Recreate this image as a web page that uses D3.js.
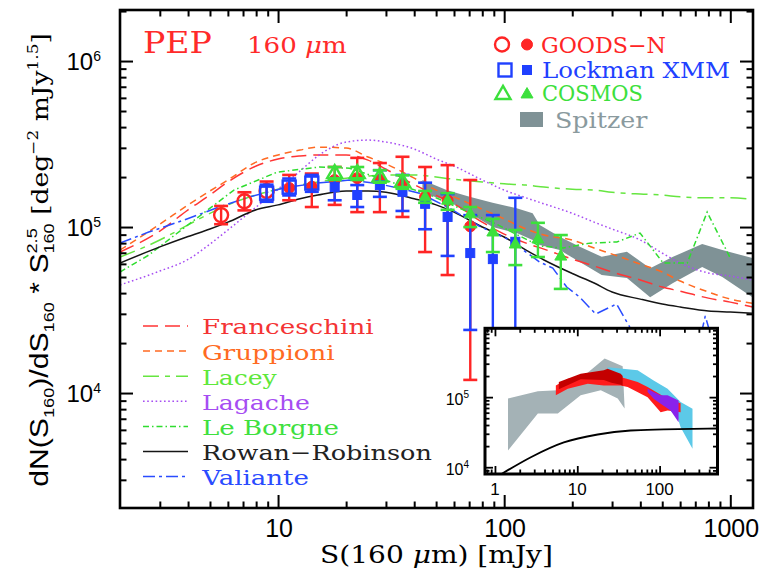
<!DOCTYPE html>
<html><head><meta charset="utf-8">
<script src="https://cdn.jsdelivr.net/npm/d3@7"></script>
<style>body{margin:0;background:#fff}</style>
</head><body>
<svg id="c" width="765" height="576" xmlns="http://www.w3.org/2000/svg"></svg>
<script>
// ---------------- DATA ----------------
const S_GRID = [2,3,4,5,6,8,10,12.5,15,20,25,30,40,50,60,80,100,125,150,200,250,300,400,500,600,800,1000,1250];
const franceschini = [7.07e4,9.46e4,1.27e5,1.56e5,1.87e5,2.33e5,2.57e5,2.68e5,2.72e5,2.72e5,2.53e5,2.23e5,1.80e5,1.55e5,1.38e5,1.07e5,9.07e4,8.0e4,7.36e4,6.41e4,5.82e4,5.36e4,4.80e4,4.35e4,4.11e4,3.73e4,3.53e4,3.30e4];
const gruppioni = [7.27e4,1.04e5,1.36e5,1.65e5,1.92e5,2.46e5,2.72e5,2.91e5,3.03e5,2.99e5,2.64e5,2.40e5,1.97e5,1.67e5,1.52e5,1.28e5,1.12e5,9.73e4,8.95e4,8.35e4,7.47e4,6.87e4,5.98e4,5.36e4,4.73e4,4.06e4,3.68e4,3.48e4];
const lacey = [6.59e4,8.35e4,1.03e5,1.21e5,1.36e5,1.56e5,1.69e5,1.79e5,1.87e5,1.97e5,2.03e5,2.06e5,2.06e5,2.0e5,1.94e5,1.87e5,1.82e5,1.79e5,1.74e5,1.69e5,1.67e5,1.62e5,1.58e5,1.56e5,1.52e5,1.50e5,1.50e5,1.47e5];
const lagache = [4.48e4,5.43e4,6.38e4,7.9e4,9.6e4,1.32e5,1.69e5,2.17e5,2.68e5,3.25e5,3.34e5,3.25e5,2.95e5,2.57e5,2.33e5,1.92e5,1.67e5,1.50e5,1.38e5,1.21e5,1.07e5,9.73e4,8.35e4,6.97e4,6.07e4,5.29e4,5.07e4,4.80e4];
const rowanRobinson = [6.07e4,7.59e4,8.77e4,9.73e4,1.07e5,1.27e5,1.36e5,1.48e5,1.56e5,1.65e5,1.65e5,1.62e5,1.48e5,1.36e5,1.23e5,1.0e5,8.71e4,7.27e4,6.33e4,5.25e4,4.6e4,4.06e4,3.68e4,3.44e4,3.30e4,3.12e4,3.08e4,3.03e4];
const leBorgneS = [2,2.68,3.83,6.38,9.9,15.2,20.7,28.1,46.8,72.5,92.6,117,144,182,239,315,399,505,645,790,1000];
const leBorgneV = [5.36e4,6.78e4,9.86e4,1.67e5,2.14e5,2.30e5,2.26e5,1.97e5,1.56e5,1.20e5,1.04e5,8.83e4,7.69e4,7.47e4,8.0e4,8.13e4,9.2e4,6.07e4,6.07e4,1.23e5,6.5e4];
const valianteS = [2,2.68,3.83,5.48,7.51,10.6,14.9,20.7,28.1,42.2,57.4,77.9,105.7,143.6,164,189,216,254,314,359,420,700,775,832];
const valianteV = [8.0e4,9.33e4,1.10e5,1.32e5,1.52e5,1.72e5,1.84e5,1.92e5,1.82e5,1.60e5,1.30e5,1.01e5,8.35e4,6.15e4,5.66e4,4.35e4,3.78e4,2.99e4,3.44e4,2.50e4,1.58e4,1.58e4,2.91e4,2.08e4];

const spitzerS  = [43.5,55.6,70.3,88.9,113.6,133.6,143.6,176,216,270,349,442,558,751,922,1253];
const spitzerHi = [1.92e5,1.67e5,1.52e5,1.40e5,1.30e5,1.21e5,1.03e5,8.74e4,7.61e4,6.62e4,7.1e4,5.64e4,6.62e4,7.9e4,7.27e4,6.5e4];
const spitzerLo = [1.6e5,1.45e5,1.21e5,1.0e5,9.2e4,8.35e4,7.8e4,7.27e4,6.15e4,5.14e4,4.93e4,3.78e4,4.6e4,5.74e4,5.0e4,3.78e4];

// [S, value, lower, upper]
const goodsOpen = [[5.6,1.18e5,1.04e5,1.34e5],[7.1,1.43e5,1.26e5,1.62e5],[8.9,1.65e5,1.45e5,1.88e5]];
const goodsFilled = [[11.2,1.72e5,1.45e5,2.06e5],[14.1,1.75e5,1.32e5,2.10e5],[17.8,1.92e5,1.36e5,2.30e5],[22.4,1.97e5,1.23e5,2.61e5],[28.2,1.92e5,1.23e5,2.43e5],[35.5,1.84e5,1.15e5,2.65e5],[44.7,1.52e5,7.07e4,2.30e5],[56.2,1.45e5,5.14e4,2.36e5],[70.8,1.01e5,1.20e4,1.92e5]];
const lockmanOpen = [[8.9,1.60e5,1.42e5,1.80e5],[11.2,1.74e5,1.55e5,1.96e5],[14.1,1.84e5,1.63e5,2.06e5]];
const lockmanFilled = [[17.8,1.74e5,1.45e5,1.97e5],[22.4,1.56e5,1.32e5,1.79e5],[28.2,1.79e5,1.52e5,2.20e5],[35.5,1.63e5,1.25e5,2.06e5],[44.7,1.38e5,9.7e4,1.85e5],[56.2,1.15e5,6.7e4,1.58e5],[70.8,6.97e4,2.40e4,1.18e5],[89.1,6.41e4,1.5e4,1.18e5],[112,8.15e4,1.5e4,1.50e5]];
const cosmosOpen = [[17.8,2.11e5,1.92e5,2.30e5],[22.4,2.11e5,1.92e5,2.30e5],[28.2,2.01e5,1.85e5,2.20e5],[35.5,1.87e5,1.70e5,2.05e5]];
const cosmosFilled = [[44.7,1.52e5,1.40e5,1.65e5],[56.2,1.45e5,1.27e5,1.60e5],[70.8,1.20e5,1.0e5,1.32e5],[89.1,9.33e4,7.07e4,1.12e5],[112,7.9e4,5.9e4,9.6e4],[141,8.47e4,6.6e4,1.06e5],[178,6.68e4,4.24e4,8.95e4]];

// inset bands: [S, value]
const insetGreyUpper = [[1.44,9.58e4],[3.32,1.21e5],[5.8,1.25e5],[11.0,1.85e5],[21.5,3.57e5],[35.6,2.75e5],[37.6,6.9e4]];
const insetGreyLower = [[1.44,1.73e4],[3.32,5.85e4],[5.8,5.85e4],[11.0,1.06e5],[19.3,1.25e5],[31,9.58e4],[37.6,6.9e4]];
const insetCyanUpper = [[23.4,2.68e5],[35.6,2.55e5],[54.1,2.41e5],[84.6,1.73e5],[125,1.32e5],[180,8.49e4],[251,6.82e4]];
const insetCyanLower = [[23.4,2.2e5],[35.6,1.9e5],[54.1,1.5e5],[84.6,1.1e5],[125,7e4],[165,5.18e4],[180,3.73e4],[251,1.83e4]];
const insetRedUpper = [[5.49,1.47e5],[7.67,1.83e5],[14.6,2.04e5],[21.0,2.16e5],[33.7,1.93e5],[54.1,1.64e5],[71.5,1.39e5],[125,9.48e4],[163,8.49e4],[180,8.2e4]];
const insetRedLower = [[5.49,1.06e5],[7.67,1.32e5],[13.4,1.55e5],[21.0,1.47e5],[33.7,1.47e5],[40.9,1.39e5],[71.5,1.0e5],[103,6.1e4],[125,6.46e4],[180,6.1e4]];
const insetDarkUpper = [[5.97,1.64e5],[11.0,2.16e5],[21.0,2.41e5],[23.4,2.55e5],[33.7,2.16e5],[35.6,2.0e5]];
const insetDarkLower = [[5.97,1.3e5],[11.0,1.8e5],[21.0,1.75e5],[26,1.6e5],[33.7,1.5e5],[35.6,1.45e5]];
const insetPurpleUpper = [[71.5,1.32e5],[84.6,1.18e5],[103,1.06e5],[125,1.06e5],[170,8.98e4]];
const insetPurpleLower = [[71.5,1.18e5],[84.6,9.48e4],[103,8.05e4],[136,6.46e4],[170,4.39e4]];
const insetCurveS = [1.2,2.73,6.86,17.7,44.5,112,505];
const insetCurveV = [8.0e3,1.39e4,2.26e4,2.93e4,3.34e4,3.46e4,3.57e4];

const xTickValues = [10,100,1000];
const xTickLabels = ["10","100","1000"];
const yTickValues = [1e4,1e5,1e6];
const yTickExps = ["4","5","6"];
const insetXTickValues = [1,10,100];
const insetXTickLabels = ["1","10","100"];
const insetYTickValues = [1e4,1e5];
const insetYTickExps = ["4","5"];

const modelNames = ["Franceschini","Gruppioni","Lacey","Lagache","Le Borgne","Rowan\u2212Robinson","Valiante"];
const surveyNames = ["GOODS\u2212N","Lockman XMM","COSMOS","Spitzer"];

// ---------------- DRAW ----------------
const SANS = "Liberation Sans, Arial, sans-serif";
const SERIF = "DejaVu Serif, serif";
const svg = d3.select("#c");
svg.append("rect").attr("width",765).attr("height",576).attr("fill","#fff");

const L=120, R=753, T=10, B=508;
const x = d3.scaleLog().domain([2,1260]).range([L,R]);
const y = d3.scaleLog().domain([2030,2.03e6]).range([B,T]);

function minorTicks(dom){
  const out=[];
  for(let e=-1;e<=7;e++){ const d=Math.pow(10,e); for(let k=2;k<=9;k++){ const v=k*d; if(v>=dom[0]*1.0001 && v<=dom[1]*0.9999) out.push(v);} }
  return out;
}
function fitW(t, target, mode){
  const b=t.node().getBBox(); const k=target/b.width;
  const ax = mode==="middle" ? b.x+b.width/2 : b.x;
  t.attr("transform",`translate(${ax},0) scale(${k},1) translate(${-ax},0)`);
}

const defs = svg.append("defs");
defs.append("clipPath").attr("id","clipMain").append("rect").attr("x",L).attr("y",T).attr("width",R-L).attr("height",B-T);

const plot = svg.append("g").attr("clip-path","url(#clipMain)");

// Spitzer band
const bandData = spitzerS.map((s,i)=>({s, lo:spitzerLo[i], hi:spitzerHi[i]}));
plot.append("path").datum(bandData)
  .attr("d", d3.area().x(d=>x(d.s)).y0(d=>y(d.lo)).y1(d=>y(d.hi)))
  .attr("fill","#7f9296");

// Models
const models = [
  {S:S_GRID, V:franceschini, color:"#ff3535", dash:"15,7", smooth:true},
  {S:S_GRID, V:gruppioni, color:"#ff6a22", dash:"7,5", smooth:true},
  {S:S_GRID, V:lacey, color:"#66e640", dash:"16,6,5,6", smooth:true},
  {S:S_GRID, V:lagache, color:"#a64df2", dash:"1.6,2.6", smooth:true},
  {S:leBorgneS, V:leBorgneV, color:"#2fdc2f", dash:"6,3,1.5,3", smooth:false},
  {S:S_GRID, V:rowanRobinson, color:"#151515", dash:null, smooth:true},
  {S:valianteS, V:valianteV, color:"#2a4cff", dash:"12,4,3,4", smooth:false}
];
models.forEach(m=>{
  const pts = m.S.map((s,i)=>[s,m.V[i]]);
  const line = d3.line().x(d=>x(d[0])).y(d=>y(d[1])).curve(m.smooth?d3.curveMonotoneX:d3.curveLinear);
  plot.append("path").datum(pts).attr("d",line).attr("fill","none")
    .attr("stroke",m.color).attr("stroke-width",1.5).attr("stroke-dasharray",m.dash);
});

// Data points
const RED="#ff2525", BLUE="#2040ff", GREEN="#3ce03c";
function errBars(g, data, color){
  data.forEach(d=>{
    const cx=x(d[0]);
    g.append("line").attr("x1",cx).attr("x2",cx).attr("y1",y(d[2])).attr("y2",y(d[3])).attr("stroke",color).attr("stroke-width",2.4);
    [d[2],d[3]].forEach(v=>g.append("line").attr("x1",cx-7).attr("x2",cx+7).attr("y1",y(v)).attr("y2",y(v)).attr("stroke",color).attr("stroke-width",2.6));
  });
}
function marker(g, cx, cy, shape, filled, color){
  if(shape==="circle"){
    g.append("circle").attr("cx",cx).attr("cy",cy).attr("r",filled?5.5:7)
      .attr("fill",filled?color:"none").attr("stroke",color).attr("stroke-width",filled?1:2.4);
  } else if(shape==="square"){
    const s=filled?9:13;
    g.append("rect").attr("x",cx-s/2).attr("y",cy-s/2).attr("width",s).attr("height",s)
      .attr("fill",filled?color:"none").attr("stroke",color).attr("stroke-width",filled?1:2.4);
  } else {
    const s=filled?12:15, h=s*0.866;
    g.append("path").attr("d",`M${cx},${cy-h*0.62}L${cx+s/2},${cy+h*0.38}L${cx-s/2},${cy+h*0.38}Z`)
      .attr("fill",filled?color:"none").attr("stroke",color).attr("stroke-width",filled?1:2.4).attr("stroke-linejoin","miter");
  }
}
const pts = plot.append("g");
[[goodsOpen,"circle",false,RED],[goodsFilled,"circle",true,RED],
 [lockmanOpen,"square",false,BLUE],[lockmanFilled,"square",true,BLUE],
 [cosmosOpen,"triangle",false,GREEN],[cosmosFilled,"triangle",true,GREEN]].forEach(([data,shape,filled,color])=>{
  errBars(pts,data,color);
  data.forEach(d=>marker(pts,x(d[0]),y(d[1]),shape,filled,color));
});

// Axes ticks (main)
const xMinor = minorTicks(x.domain()), yMinor = minorTicks(y.domain());
function tickAxis(gen, scale, vals, size, transform){
  const g = svg.append("g").attr("transform",transform)
    .call(gen(scale).tickValues(vals).tickSize(size).tickSizeOuter(0).tickFormat(""));
  g.select(".domain").remove();
  g.selectAll(".tick line").attr("stroke","#000").attr("stroke-width",2);
}
tickAxis(d3.axisBottom, x, xTickValues, -13, `translate(0,${B})`);
tickAxis(d3.axisBottom, x, xMinor, -6.5, `translate(0,${B})`);
tickAxis(d3.axisTop, x, xTickValues, -13, `translate(0,${T})`);
tickAxis(d3.axisTop, x, xMinor, -6.5, `translate(0,${T})`);
tickAxis(d3.axisLeft, y, yTickValues, -13, `translate(${L},0)`);
tickAxis(d3.axisLeft, y, yMinor, -6.5, `translate(${L},0)`);
tickAxis(d3.axisRight, y, yTickValues, -13, `translate(${R},0)`);
tickAxis(d3.axisRight, y, yMinor, -6.5, `translate(${R},0)`);
svg.append("rect").attr("x",L).attr("y",T).attr("width",R-L).attr("height",B-T)
  .attr("fill","none").attr("stroke","#000").attr("stroke-width",2.6);

// tick labels
xTickValues.forEach((v,i)=>{
  svg.append("text").attr("x",x(v)+1).attr("y",537).attr("text-anchor","middle")
    .attr("font-family",SANS).attr("font-size",25).text(xTickLabels[i]);
});
yTickValues.forEach((v,i)=>{
  const t=svg.append("text").attr("x",101).attr("y",y(v)+9).attr("text-anchor","end")
    .attr("font-family",SANS).attr("font-size",24);
  t.append("tspan").text("10");
  t.append("tspan").attr("font-size",14).attr("dy",-9).text(yTickExps[i]);
});

// Axis titles
const xt = svg.append("text").attr("x",436.5).attr("y",563).attr("text-anchor","middle")
  .attr("font-family",SERIF).attr("font-size",24);
xt.append("tspan").text("S(160 ");
xt.append("tspan").attr("font-style","italic").text("\u03bc");
xt.append("tspan").text("m) [mJy]");
fitW(xt,233,"middle");

const yg = svg.append("g").attr("transform","translate(48,260) rotate(-90)");
const yt = yg.append("text").attr("x",0).attr("y",0).attr("text-anchor","middle").attr("font-family",SANS).attr("font-size",25);
yt.append("tspan").text("dN(S");
yt.append("tspan").attr("font-size",15).attr("dy",6).text("160");
yt.append("tspan").attr("dy",-6).text(")/dS");
yt.append("tspan").attr("font-size",15).attr("dy",6).text("160");
yt.append("tspan").attr("dy",-6).text(" * S");
yt.append("tspan").attr("font-size",15).attr("dy",-11).text("2.5");
yt.append("tspan").attr("font-size",15).attr("dx",-20.9).attr("dy",17).text("160");
yt.append("tspan").attr("font-family",SERIF).attr("font-size",22).attr("dy",-6).text(" [deg");
yt.append("tspan").attr("font-family",SERIF).attr("font-size",14).attr("dy",-10).text("\u22122");
yt.append("tspan").attr("font-family",SERIF).attr("font-size",22).attr("dy",10).text(" mJy");
yt.append("tspan").attr("font-family",SERIF).attr("font-size",14).attr("dy",-10).text("1.5");
yt.append("tspan").attr("font-family",SERIF).attr("font-size",22).attr("dy",10).text("]");
fitW(yt,454,"middle");

// PEP title
const pep = svg.append("text").attr("x",143).attr("y",53).attr("font-family",SERIF).attr("font-size",29).attr("fill","#ff2a2a").text("PEP");
fitW(pep,69,"start");
const wl = svg.append("text").attr("x",247).attr("y",53).attr("font-family",SERIF).attr("font-size",22).attr("fill","#ff2a2a");
wl.append("tspan").text("160 ");
wl.append("tspan").attr("font-style","italic").text("\u03bc");
wl.append("tspan").text("m");
fitW(wl,100,"start");

// Top-right legend
const survColors = [RED,BLUE,GREEN,"#8a9a9e"];
const survWidths = [125,188,101,93];
const survY = [44.5,70,93,119.5];
const survX = [541,542,542,555];
const lg = svg.append("g");
marker(lg,502,survY[0],"circle",false,RED); marker(lg,527,survY[0],"circle",true,RED);
marker(lg,505,survY[1],"square",false,BLUE); marker(lg,527,survY[1],"square",true,BLUE);
marker(lg,503,survY[2]+1,"triangle",false,GREEN); marker(lg,527,survY[2]+1,"triangle",true,GREEN);
lg.append("rect").attr("x",520).attr("y",112).attr("width",23).attr("height",15).attr("fill","#7f9296");
surveyNames.forEach((n,i)=>{
  const t=lg.append("text").attr("x",survX[i]).attr("y",survY[i]+8.5).attr("font-family",SERIF).attr("font-size",22)
    .attr("fill",survColors[i]).text(n);
  fitW(t,survWidths[i],"start");
});

// Bottom-left legend
const modelTextColors = ["#f43434","#ff6a22","#5ee83a","#a64df2","#3ee03e","#222","#2a4cff"];
const modelWidths = [172,133,75,108,137,230,108];
modelNames.forEach((n,i)=>{
  const yy = 326 + i*25.1;
  const m = models[i];
  lg.append("line").attr("x1",143).attr("x2",188).attr("y1",yy).attr("y2",yy)
    .attr("stroke",m.color).attr("stroke-width",1.5).attr("stroke-dasharray",m.dash);
  const t = lg.append("text").attr("x",202).attr("y",yy+8.5).attr("font-family",SERIF).attr("font-size",21)
    .attr("fill",modelTextColors[i]).text(n);
  fitW(t,modelWidths[i],"start");
});

// ---------------- INSET ----------------
const iL=485, iR=717.5, iT=328.3, iB=474;
const xi = d3.scaleLog().domain([0.757,505]).range([iL,iR]);
const yi = d3.scaleLog().domain([8.0e3,9.6e5]).range([iB,iT]);
defs.append("clipPath").attr("id","clipInset").append("rect").attr("x",iL).attr("y",iT).attr("width",iR-iL).attr("height",iB-iT);
svg.append("rect").attr("x",iL).attr("y",iT).attr("width",iR-iL).attr("height",iB-iT).attr("fill","#fff");
const ig = svg.append("g").attr("clip-path","url(#clipInset)");
function band(upper, lower, color){
  const poly = upper.concat(lower.slice().reverse());
  ig.append("path").attr("d", d3.line().x(d=>xi(d[0])).y(d=>yi(d[1]))(poly)+"Z").attr("fill",color);
}
band(insetGreyUpper, insetGreyLower, "#a4b2b6");
band(insetCyanUpper, insetCyanLower, "#5cc9e8");
band(insetRedUpper, insetRedLower, "#ff1c1c");
band(insetDarkUpper, insetDarkLower, "#c40000");
band(insetPurpleUpper, insetPurpleLower, "#8a22ea");
ig.append("path").datum(insetCurveS.map((s,i)=>[s,insetCurveV[i]]))
  .attr("d", d3.line().x(d=>xi(d[0])).y(d=>yi(d[1])).curve(d3.curveMonotoneX))
  .attr("fill","none").attr("stroke","#000").attr("stroke-width",1.8);

const xiMinor = minorTicks(xi.domain()), yiMinor = minorTicks(yi.domain());
function tickAxisI(gen, scale, vals, size, transform){
  const g = svg.append("g").attr("transform",transform)
    .call(gen(scale).tickValues(vals).tickSize(size).tickSizeOuter(0).tickFormat(""));
  g.select(".domain").remove();
  g.selectAll(".tick line").attr("stroke","#000").attr("stroke-width",1.8);
}
tickAxisI(d3.axisBottom, xi, insetXTickValues, -8, `translate(0,${iB})`);
tickAxisI(d3.axisBottom, xi, xiMinor, -4.5, `translate(0,${iB})`);
tickAxisI(d3.axisTop, xi, insetXTickValues, -8, `translate(0,${iT})`);
tickAxisI(d3.axisTop, xi, xiMinor, -4.5, `translate(0,${iT})`);
tickAxisI(d3.axisLeft, yi, insetYTickValues, -8, `translate(${iL},0)`);
tickAxisI(d3.axisLeft, yi, yiMinor, -4.5, `translate(${iL},0)`);
tickAxisI(d3.axisRight, yi, insetYTickValues, -8, `translate(${iR},0)`);
tickAxisI(d3.axisRight, yi, yiMinor, -4.5, `translate(${iR},0)`);
svg.append("rect").attr("x",iL).attr("y",iT).attr("width",iR-iL).attr("height",iB-iT)
  .attr("fill","none").attr("stroke","#000").attr("stroke-width",3);
insetXTickValues.forEach((v,i)=>{
  svg.append("text").attr("x",xi(v)).attr("y",495).attr("text-anchor","middle")
    .attr("font-family",SANS).attr("font-size",17).text(insetXTickLabels[i]);
});
insetYTickValues.forEach((v,i)=>{
  const t=svg.append("text").attr("x",469).attr("y",yi(v)+8).attr("text-anchor","end")
    .attr("font-family",SANS).attr("font-size",16);
  t.append("tspan").text("10");
  t.append("tspan").attr("font-size",10).attr("dy",-7).text(insetYTickExps[i]);
});
</script>
</body></html>
